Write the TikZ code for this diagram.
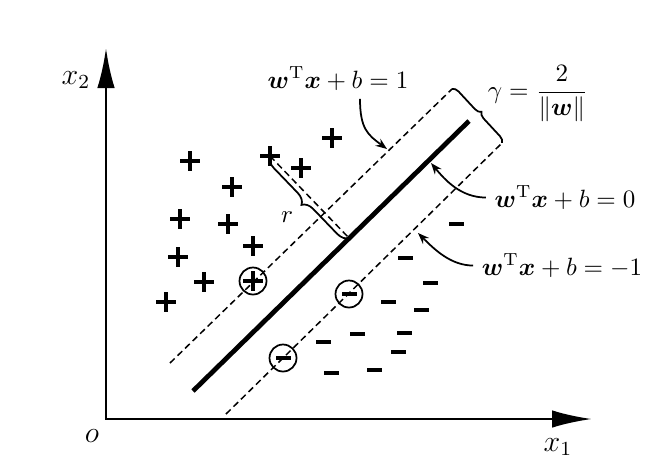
\documentclass[tikz,border=0pt]{standalone}
\usepackage{amsmath,bm}
\usetikzlibrary{arrows.meta,shapes.misc,decorations.pathreplacing,calc}

\tikzset{
  axis/.style={line width=1.1pt, arrows={Latex[length=16pt,width=7pt]-Latex[length=16pt,width=7pt]}},
  margin/.style={line width=0.6pt, dash pattern=on 2.6pt off 1.6pt},
  plus/.style={cross out, draw, rotate=45, line width=1.3pt, minimum size=4.3pt, inner sep=0pt},
  minus/.style={fill, minimum width=6pt, minimum height=1.3pt, inner sep=0pt},
  ring/.style={circle, draw, line width=0.7pt, minimum size=10.8pt, inner sep=0pt},
  pointer/.style={line width=0.7pt, -{Stealth[length=4.5pt,width=3.4pt]}},
  bracket/.style={line width=0.7pt, decorate, decoration={brace, amplitude=#1}},
  bracket/.default=3pt,
}

\begin{document}
\begin{tikzpicture}[x=0.4pt, y=-0.4pt]
  \useasboundingbox (0,0) rectangle (664,462);
  % axes
  \coordinate (O) at (106,419);
  \coordinate (X) at (592,419);
  \coordinate (Y) at (106,48);
  \draw[axis] (Y) -- (O) -- (X);
  \node[font=\large] (lx1) at (558,447) {$x_1$};
  \node[font=\large] (lx2) at (76,80) {$x_2$};
  \node[font=\large] (lo) at (92,436) {$o$};
  % hyperplane and margins
  \coordinate (s1) at (193,391);
  \coordinate (s2) at (469,121);
  \coordinate (u1) at (170,363);
  \coordinate (u2) at (452,89);
  \coordinate (d1) at (226,414);
  \coordinate (d2) at (502,143);
  \draw[line width=1.9pt] (s1) -- (s2);
  \draw[margin] (u1) -- (u2);
  \draw[margin] (d1) -- (d2);
  % positive samples
  \foreach \x/\y [count=\i] in {332/138, 190/161, 270/156, 301/168, 232/187, 180/219,
      228/224, 253/246, 178/257, 204/282, 166/302, 253/281}
    \node[plus] (p\i) at (\x,\y) {};
  \node[ring] (c1) at (p12) {};
  % negative samples
  \foreach \x/\y [count=\i] in {456/224, 405/258, 430/283, 388/302, 421/310, 357/334,
      404/333, 323/342, 398/352, 331/373, 374/370, 349/294, 283/358}
    \node[minus] (n\i) at (\x,\y) {};
  \node[ring] (c2) at (n12) {};
  \node[ring] (c3) at (n13) {};
  % distance r
  \coordinate (f) at (349,238);
  \draw[margin] (p3.center) -- (f);
  \draw[bracket=4.5pt] (f) -- (p3.center);
  \node (lr) at (287,217) {$r$};
  % margin width
  \draw[bracket=2.5pt] (u2) -- (d2);
  \node (gam) at (538,94) {$\gamma=\dfrac{2}{\|\bm{w}\|}$};
  % equations
  \node[anchor=base] (eqpos) at (338,88) {$\bm{w}^{\mathrm{T}}\bm{x}+b=1$};
  \node[anchor=base] (eqzero) at (565,207) {$\bm{w}^{\mathrm{T}}\bm{x}+b=0$};
  \node[anchor=base] (eqneg) at (562,275) {$\bm{w}^{\mathrm{T}}\bm{x}+b=-1$};
  \coordinate (t1) at (387,149);
  \coordinate (t2) at (431,163);
  \coordinate (t3) at (418,233);
  \draw[pointer] ([xshift=8.8pt]eqpos.south) .. controls +(0,30) and +(-19,-14) .. (t1);
  \draw[pointer] (eqzero.west) .. controls +(-25,0) and +(14,17) .. (t2);
  \draw[pointer] (eqneg.west) .. controls +(-22,0) and +(17,17) .. (t3);
\end{tikzpicture}
\end{document}
